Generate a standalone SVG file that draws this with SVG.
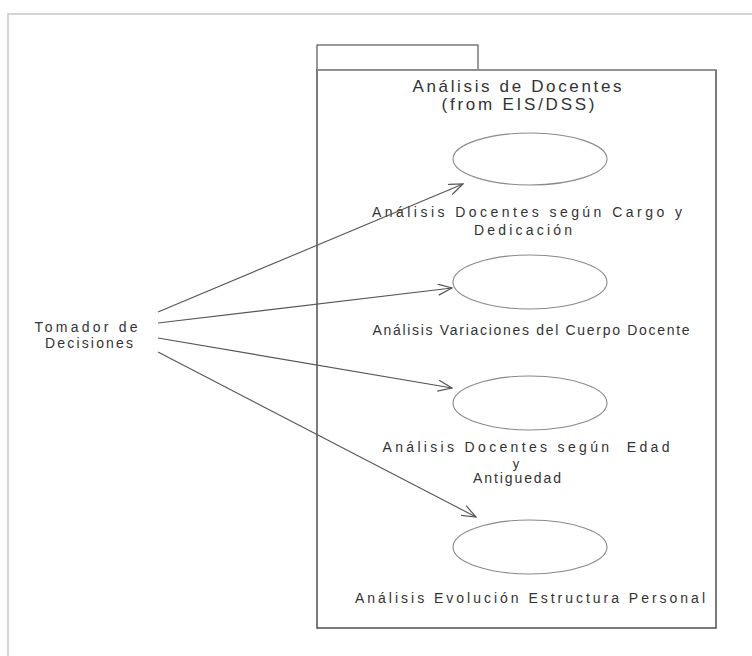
<svg xmlns="http://www.w3.org/2000/svg" width="752" height="656" viewBox="0 0 752 656">
  <defs>
    <marker id="open" viewBox="0 0 16 12" refX="15" refY="6" markerWidth="16" markerHeight="12" markerUnits="userSpaceOnUse" orient="auto">
      <path d="M1,0.5 L15,6 L1,11.5" fill="none" stroke="#555" stroke-width="1.2"/>
    </marker>
  </defs>
  <style>
    text { font-family: "Liberation Sans", Arial, sans-serif; font-size: 14px; fill: #333; }
    .title { font-size: 17px; }
    .uc { fill: #fff; stroke: #8a8a8a; stroke-width: 1.1; }
    .assoc { fill: none; stroke: #555; stroke-width: 1.1; marker-end: url(#open); }
    .frame { fill: none; stroke: #d4d4d4; stroke-width: 2; }
  </style>

  <rect width="752" height="656" fill="#fff"/>
  <!-- outer canvas frame -->
  <path class="frame" d="M8,656 V14 H752"/>

  <!-- package: Análisis de Docentes -->
  <g id="package">
    <rect x="317" y="45" width="161" height="25" fill="#fff" stroke="#555" stroke-width="1.2"/>
    <rect x="317" y="70" width="399" height="558" fill="#fff" stroke="#444" stroke-width="1.4"/>
    <line x1="317" y1="70" x2="716" y2="70" stroke="#9a9a9a" stroke-width="1.4"/>
    <text class="title" x="517" y="92" text-anchor="middle" textLength="209" lengthAdjust="spacing">Análisis de Docentes</text>
    <text class="title" x="518" y="110" text-anchor="middle" textLength="153" lengthAdjust="spacing">(from EIS/DSS)</text>
  </g>

  <!-- actor -->
  <g id="actor">
    <text x="86" y="332" text-anchor="middle" textLength="103" lengthAdjust="spacing">Tomador de</text>
    <text x="89" y="348" text-anchor="middle" textLength="88" lengthAdjust="spacing">Decisiones</text>
  </g>

  <!-- use cases -->
  <g id="uc-cargo">
    <ellipse class="uc" cx="530" cy="159" rx="77" ry="26"/>
    <text x="527" y="217" text-anchor="middle" textLength="310" lengthAdjust="spacing">Análisis Docentes según Cargo y</text>
    <text x="523" y="235" text-anchor="middle" textLength="98" lengthAdjust="spacing">Dedicación</text>
  </g>
  <g id="uc-variaciones">
    <ellipse class="uc" cx="530" cy="282" rx="77" ry="27"/>
    <text x="531" y="335" text-anchor="middle" textLength="317" lengthAdjust="spacing">Análisis Variaciones del Cuerpo Docente</text>
  </g>
  <g id="uc-edad">
    <ellipse class="uc" cx="530" cy="403" rx="77" ry="27"/>
    <text x="526" y="452" text-anchor="middle" textLength="287" lengthAdjust="spacing" xml:space="preserve">Análisis Docentes según  Edad</text>
    <text x="516" y="468" text-anchor="middle" style="font-size:13px">y</text>
    <text x="517" y="483" text-anchor="middle" textLength="88" lengthAdjust="spacing">Antiguedad</text>
  </g>
  <g id="uc-evolucion">
    <ellipse class="uc" cx="530" cy="547" rx="77" ry="27"/>
    <text x="530" y="603" text-anchor="middle" textLength="350" lengthAdjust="spacing">Análisis Evolución Estructura Personal</text>
  </g>

  <!-- associations -->
  <g id="connectors">
    <line class="assoc" x1="158" y1="312" x2="463" y2="184"/>
    <line class="assoc" x1="158" y1="323" x2="452" y2="288"/>
    <line class="assoc" x1="158" y1="338" x2="452" y2="388"/>
    <line class="assoc" x1="158" y1="352" x2="476" y2="517"/>
  </g>
</svg>
